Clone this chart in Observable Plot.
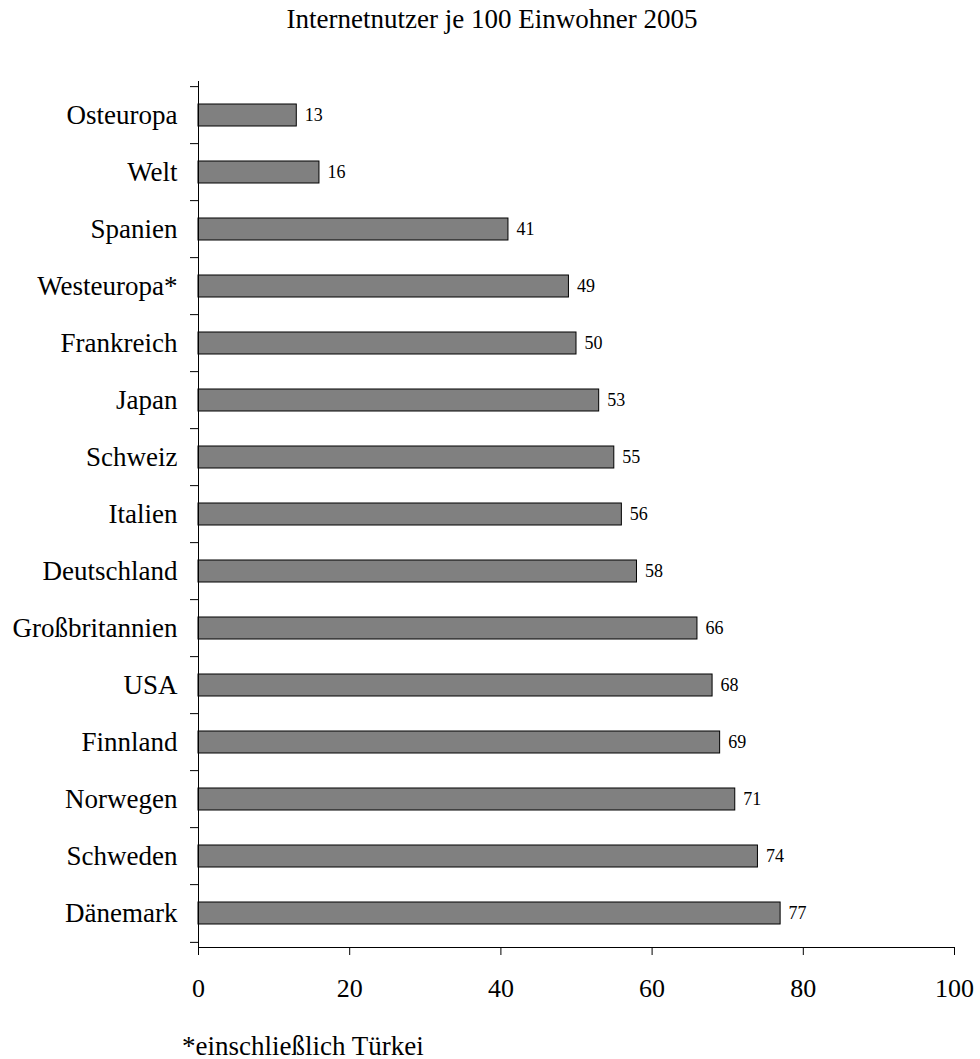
<!DOCTYPE html>
<html>
<head>
<meta charset="utf-8">
<script src="https://cdn.jsdelivr.net/npm/d3@7"></script>
<script src="https://cdn.jsdelivr.net/npm/@observablehq/plot@0.6"></script>
<style>
  html, body { margin: 0; padding: 0; background: #fff; overflow: hidden; }
  #wrap { position: relative; width: 980px; height: 1059px; font-family: "Liberation Serif", "Times New Roman", serif; color: #000; }
  #title { position: absolute; left: 0; top: 1px; width: 984px; text-align: center; font-size: 27px; line-height: 36px; }
  #note { position: absolute; left: 182px; top: 1028px; font-size: 27px; line-height: 36px; white-space: nowrap; }
  #chart { position: absolute; left: 0; top: 0; }
</style>
</head>
<body>
<div id="wrap">
  <div id="chart"></div>
  <div id="title">Internetnutzer je 100 Einwohner 2005</div>
  <div id="note">*einschließlich Türkei</div>
</div>
<script>
// Internet users per 100 inhabitants, 2005
const countries = ["Osteuropa", "Welt", "Spanien", "Westeuropa*", "Frankreich", "Japan", "Schweiz", "Italien",
  "Deutschland", "Großbritannien", "USA", "Finnland", "Norwegen", "Schweden", "Dänemark"];
const users = [13, 16, 41, 49, 50, 53, 55, 56, 58, 66, 68, 69, 71, 74, 77];
const xTicks = [0, 20, 40, 60, 80, 100];

const data = countries.map((name, i) => ({name, value: users[i]}));

const width = 980, height = 1059;
const marginTop = 81, marginBottom = 112, marginLeft = 198, marginRight = 26;
// one category band, used to shift the y ticks onto the band boundaries
const step = (height - marginTop - marginBottom) / countries.length;
const font = '"Liberation Serif", "Times New Roman", serif';

const chart = Plot.plot({
  width, height, marginTop, marginBottom, marginLeft, marginRight,
  style: {fontFamily: font, color: "#000", background: "#fff", overflow: "visible"},
  x: {domain: [0, 100]},
  y: {type: "band", domain: countries, paddingInner: 0.62, paddingOuter: 0.31},
  marks: [
    Plot.barX(data, {x: "value", y: "name", fill: "#808080", stroke: "#000", strokeWidth: 1}),
    Plot.text(data, {x: "value", y: "name", text: d => String(d.value), dx: 8, textAnchor: "start", fontSize: 18, fill: "#000"}),
    // category labels
    Plot.axisY({tickSize: 0, tickPadding: 21, fontSize: 27, label: null}),
    // tick marks between categories
    Plot.axisY({tickSize: 8, dy: -step / 2, fill: "none", label: null}),
    Plot.axisY([countries[countries.length - 1]], {tickSize: 8, dy: step / 2, fill: "none", label: null}),
    Plot.ruleX([0], {stroke: "#000"}),
    Plot.frame({anchor: "bottom", stroke: "#000"}),
    Plot.axisX({ticks: xTicks, tickSize: 8, tickPadding: 23, fontSize: 26, label: null})
  ]
});
document.getElementById("chart").appendChild(chart);
</script>
</body>
</html>
